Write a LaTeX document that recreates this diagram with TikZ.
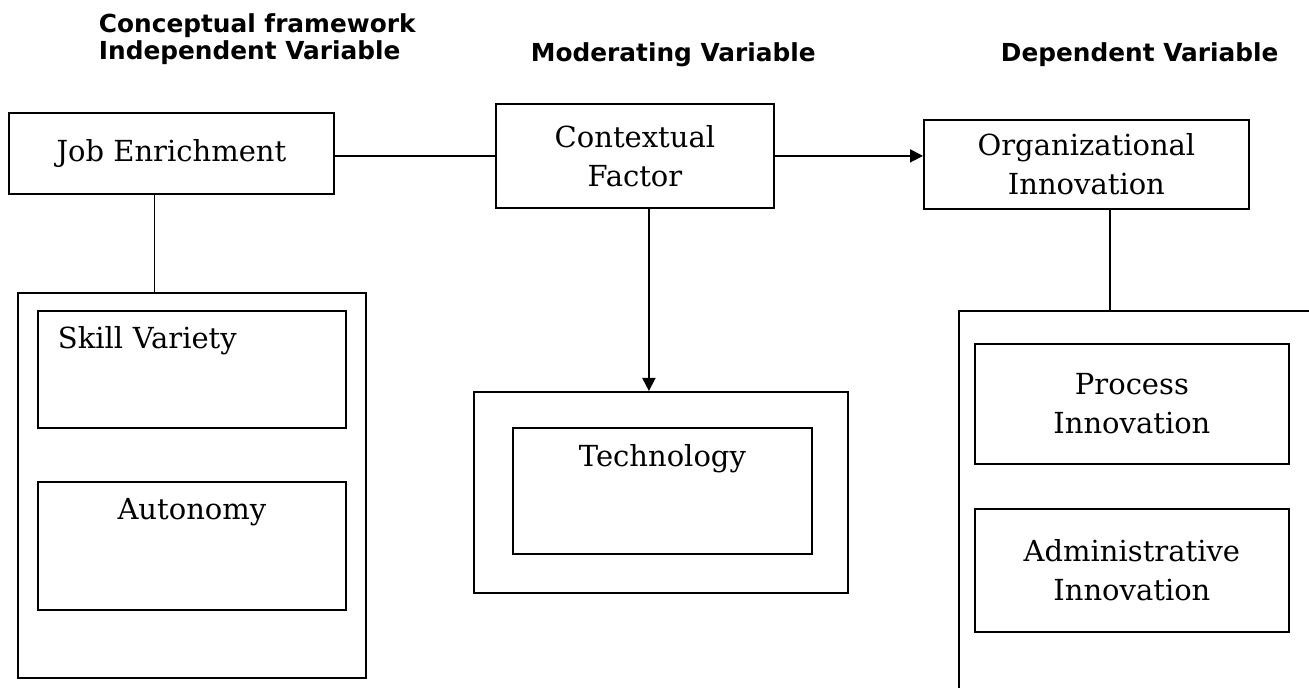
\documentclass[tikz,border=0pt]{standalone}
\usepackage{fontspec}
\setmainfont{DejaVu Serif}
\newfontfamily\headfont{DejaVu Sans}
\usetikzlibrary{arrows.meta}

\begin{document}
\begin{tikzpicture}[x=0.5pt,y=-0.5pt,line width=0.9pt,
    box/.style={draw,rectangle,inner sep=0pt,align=center,font=\fontsize{14.5}{19.5}\selectfont},
    heading/.style={anchor=base west,inner sep=0pt,font=\headfont\bfseries\fontsize{12.4}{14}\selectfont},
    arr/.style={-{Triangle[length=6.5pt,width=6.5pt]}}]
  \useasboundingbox (0,0) rectangle (1309,688);
  \clip (0,0) rectangle (1309,688);
  \node (title) [heading] at (98,33) {Conceptual framework};
  \node (hindep) [heading] at (98,60) {Independent Variable};
  \node (hmod) [heading] at (530,62) {Moderating Variable};
  \node (hdep) [heading] at (1000,62) {Dependent Variable};
  \node (job) [box,anchor=north west,minimum width=162.5pt,minimum height=40.5pt] at (8,112) {Job Enrichment};
  \node (ctx) [box,anchor=north west,minimum width=139pt,minimum height=52pt] at (495,103) {Contextual\\Factor};
  \node (org) [box,anchor=north west,minimum width=162.5pt,minimum height=44.5pt] at (923,119) {Organizational\\Innovation};
  \node (indep) [box,anchor=north west,minimum width=174pt,minimum height=192.5pt] at (17,292) {};
  \node (skill) [box,anchor=north west,align=left,text width=134pt,inner xsep=10pt,text height=19pt,text depth=39.5pt] at (37,310) {Skill Variety};
  \node (auto) [box,anchor=north west,minimum width=154pt,text height=19pt,text depth=45pt] at (37,481) {Autonomy};
  \node (modbox) [box,anchor=north west,minimum width=187pt,minimum height=100.5pt] at (473,391) {};
  \node (tech) [box,anchor=north west,minimum width=149.5pt,text height=19.5pt,text depth=43.5pt] at (512,427) {Technology};
  \node (dep) [box,anchor=north west,minimum width=200pt,minimum height=200pt] at (958,310) {};
  \node (proc) [box,anchor=north west,minimum width=157pt,minimum height=60pt] at (974,343) {Process\\Innovation};
  \node (admin) [box,anchor=north west,minimum width=157pt,minimum height=61.5pt] at (974,508) {Administrative\\Innovation};
  \draw (ctx.west -| job.east) -- (ctx.west);
  \draw [arr] (ctx.east) -- (ctx.east -| org.west);
  \draw ([xshift=-8.5pt]job.south) -- ([xshift=-8.5pt]job.south |- indep.north);
  \draw [arr] ([xshift=7pt]ctx.south) -- ([xshift=7pt]ctx.south |- modbox.north);
  \draw ([xshift=11.75pt]org.south) -- ([xshift=11.75pt]org.south |- dep.north);
\end{tikzpicture}
\end{document}
